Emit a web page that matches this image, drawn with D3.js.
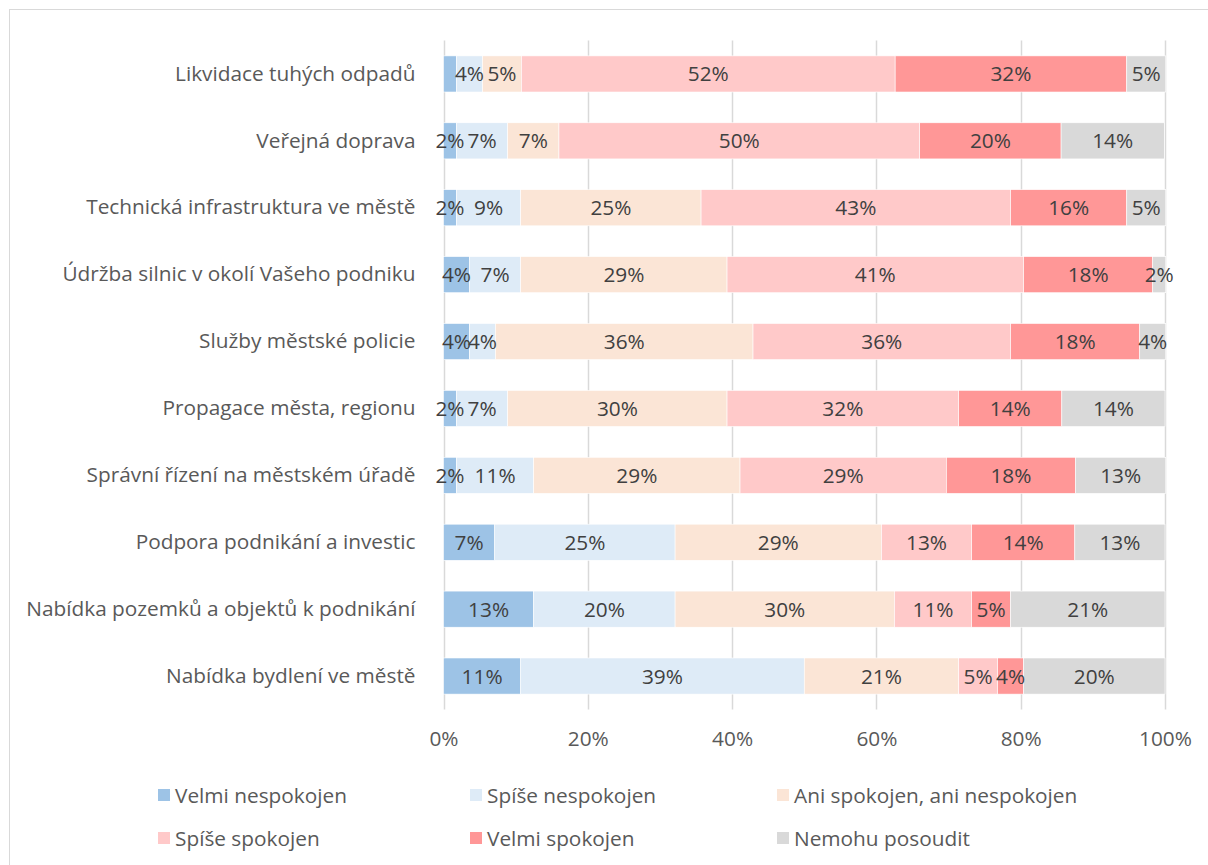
<!DOCTYPE html>
<html>
<head>
<meta charset="utf-8">
<script src="https://cdn.jsdelivr.net/npm/d3@7"></script>
<style>
  body { margin: 0; background: #fff; }
  svg text { font-family: "Open Sans", "DejaVu Sans", sans-serif; }
</style>
</head>
<body>
<div id="chart"></div>
<script>
(function() {
  // categories, top to bottom
  var categories = [
    "Likvidace tuhých odpadů",
    "Veřejná doprava",
    "Technická infrastruktura ve městě",
    "Údržba silnic v okolí Vašeho podniku",
    "Služby městské policie",
    "Propagace města, regionu",
    "Správní řízení na městském úřadě",
    "Podpora podnikání a investic",
    "Nabídka pozemků a objektů k podnikání",
    "Nabídka bydlení ve městě"
  ];

  var seriesNames = [
    "Velmi nespokojen",
    "Spíše nespokojen",
    "Ani spokojen, ani nespokojen",
    "Spíše spokojen",
    "Velmi spokojen",
    "Nemohu posoudit"
  ];

  // share of answers in %, one array per series (same order as categories)
  var velmiNespokojen = [1.8, 1.8, 1.8, 3.6, 3.6, 1.8, 1.8, 7.1, 12.5, 10.7];
  var spiseNespokojen = [3.6, 7.1, 8.9, 7.1, 3.6, 7.1, 10.7, 25.0, 19.6, 39.3];
  var aniAni = [5.4, 7.1, 25.0, 28.6, 35.7, 30.4, 28.6, 28.6, 30.4, 21.4];
  var spiseSpokojen = [51.8, 50.0, 42.9, 41.1, 35.7, 32.1, 28.6, 12.5, 10.7, 5.4];
  var velmiSpokojen = [32.1, 19.6, 16.1, 17.9, 17.9, 14.3, 17.9, 14.3, 5.4, 3.6];
  var nemohuPosoudit = [5.4, 14.3, 5.4, 1.8, 3.6, 14.3, 12.5, 12.5, 21.4, 19.6];

  // data labels not shown in the original: [category index, series index]
  var hiddenLabels = [[0, 0]];

  var xTicks = [0, 20, 40, 60, 80, 100];

  var colors = ["#9DC3E6", "#DEEBF7", "#FBE5D6", "#FFC9C9", "#FF9797", "#D9D9D9"];

  var series = [velmiNespokojen, spiseNespokojen, aniAni, spiseSpokojen, velmiSpokojen, nemohuPosoudit];

  var width = 1208, height = 865;
  var margin = { top: 40.5, right: 43, bottom: 155.5, left: 443.5 };
  var fontSize = "20.8px";

  var rows = categories.map(function(c, i) {
    var row = { name: c };
    series.forEach(function(s, j) { row[j] = s[i]; });
    return row;
  });

  var stack = d3.stack().keys(d3.range(series.length));
  var layers = stack(rows);

  var x = d3.scaleLinear().domain([0, 100]).range([margin.left, width - margin.right]);
  var y = d3.scaleBand().domain(categories).range([margin.top, height - margin.bottom]).paddingInner(0.46).paddingOuter(0.23);

  var svg = d3.select("#chart").append("svg")
    .attr("width", width).attr("height", height);

  // chart frame
  svg.append("rect")
    .attr("x", 9.5).attr("y", 9.5)
    .attr("width", width + 10).attr("height", height + 10)
    .attr("fill", "#fff").attr("stroke", "#D9D9D9").attr("stroke-width", 1);

  // gridlines
  svg.append("g").selectAll("line").data(xTicks).enter().append("line")
    .attr("x1", function(d) { return Math.round(x(d)) + 0.5; })
    .attr("x2", function(d) { return Math.round(x(d)) + 0.5; })
    .attr("y1", margin.top).attr("y2", height - margin.bottom)
    .attr("stroke", "#D9D9D9").attr("stroke-width", 1.5);

  // bars
  var groups = svg.append("g").selectAll("g").data(layers).enter().append("g")
    .attr("fill", function(d, i) { return colors[i]; });

  groups.selectAll("rect").data(function(d) { return d; }).enter().append("rect")
    .attr("x", function(d) { return x(d[0]); })
    .attr("width", function(d) { return x(d[1]) - x(d[0]); })
    .attr("y", function(d) { return y(d.data.name); })
    .attr("height", y.bandwidth())
    .attr("stroke", "#fff").attr("stroke-width", 0.6);

  // data labels, drawn above all bars
  var labelLayer = svg.append("g");
  layers.forEach(function(layer, si) {
    labelLayer.append("g").selectAll("text").data(layer).enter().append("text")
      .filter(function(d, ci) {
        return !hiddenLabels.some(function(h) { return h[0] === ci && h[1] === si; });
      })
      .attr("x", function(d) { return (x(d[0]) + x(d[1])) / 2; })
      .attr("y", function(d) { return y(d.data.name) + y.bandwidth() / 2; })
      .attr("dy", "0.36em")
      .attr("text-anchor", "middle")
      .attr("fill", "#404040")
      .style("font-size", fontSize)
      .text(function(d) { return Math.round(d[1] - d[0]) + "%"; });
  });

  // category axis
  var yAxis = d3.axisLeft(y).tickSize(0).tickPadding(28);
  var gy = svg.append("g").attr("transform", "translate(" + margin.left + ",0)").call(yAxis);
  gy.select(".domain").remove();
  gy.selectAll("text").attr("fill", "#595959").style("font-size", fontSize);

  // value axis
  var xAxis = d3.axisBottom(x).tickValues(xTicks).tickSize(0).tickPadding(22)
    .tickFormat(function(d) { return d + "%"; });
  var gx = svg.append("g").attr("transform", "translate(0," + (height - margin.bottom) + ")").call(xAxis);
  gx.select(".domain").remove();
  gx.selectAll("text").attr("fill", "#595959").style("font-size", fontSize);

  // legend
  var legendX = [158, 470, 777];
  var legendY = [795, 838];
  var legend = svg.append("g").selectAll("g").data(seriesNames).enter().append("g")
    .attr("transform", function(d, i) {
      return "translate(" + legendX[i % 3] + "," + legendY[Math.floor(i / 3)] + ")";
    });
  legend.append("rect")
    .attr("x", 0).attr("y", -6).attr("width", 12).attr("height", 12)
    .attr("fill", function(d, i) { return colors[i]; });
  legend.append("text")
    .attr("x", 17).attr("y", 0).attr("dy", "0.36em")
    .attr("fill", "#595959").style("font-size", fontSize)
    .text(function(d) { return d; });
})();
</script>
</body>
</html>
